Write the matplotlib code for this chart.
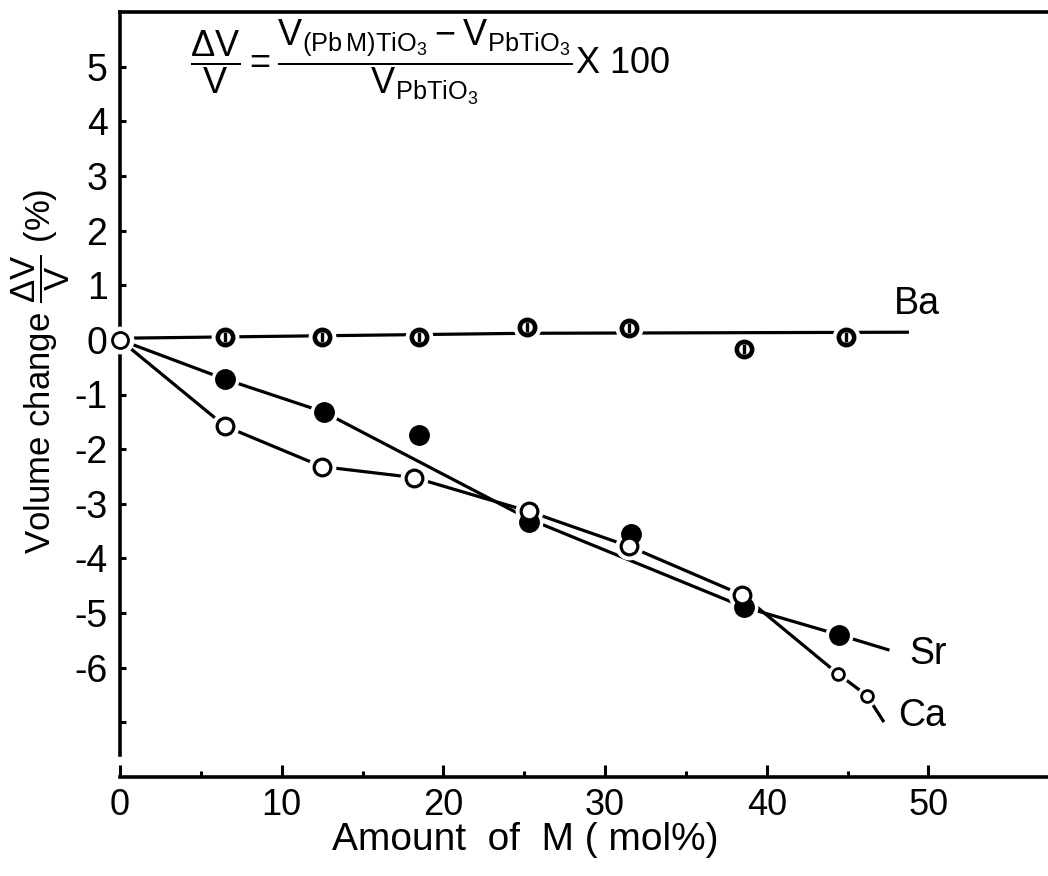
#! /usr/bin/env python3
# coding: utf-8

import matplotlib

matplotlib.use("Agg")
import matplotlib.pyplot as plt

plt.rcParams["font.family"] = ["Liberation Sans", "DejaVu Sans"]
plt.rcParams["mathtext.default"] = "regular"
plt.rcParams["axes.unicode_minus"] = False

# measured points (x = mol% of M, y = volume change in %)
origin_x = [0.0]
origin_y = [0.0]

ba_x = [6.5, 12.5, 18.5, 25.2, 31.5, 38.6, 44.9]
ba_y = [0.05, 0.05, 0.05, 0.23, 0.22, -0.17, 0.05]

sr_x = [6.5, 12.6, 18.5, 25.3, 31.6, 38.6, 44.5]
sr_y = [-0.72, -1.32, -1.74, -3.34, -3.56, -4.89, -5.40]

ca_x = [6.5, 12.5, 18.2, 25.3, 31.5, 38.5]
ca_y = [-1.58, -2.32, -2.52, -3.14, -3.78, -4.67]
ca_small_x = [44.4, 46.2]
ca_small_y = [-6.11, -6.51]

# hand drawn curves, vertices
ba_curve_x = [0.0, 25.0, 48.7]
ba_curve_y = [0.03, 0.12, 0.14]
sr_curve_x = [0.0, 6.5, 12.6, 25.3, 38.6, 44.5, 47.5]
sr_curve_y = [0.0, -0.72, -1.32, -3.28, -4.89, -5.40, -5.67]
ca_curve_x = [0.0, 6.5, 12.5, 18.2, 25.3, 31.5, 38.5, 44.4, 46.2, 47.2]
ca_curve_y = [0.0, -1.58, -2.32, -2.52, -3.14, -3.78, -4.67, -6.11, -6.51, -6.97]

x_ticks = [0, 10, 20, 30, 40, 50]
x_minor = [5, 15, 25, 35, 45]
y_ticks = [-7, -6, -5, -4, -3, -2, -1, 0, 1, 2, 3, 4, 5]
y_labels = ["", "-6", "-5", "-4", "-3", "-2", "-1", "0", "1", "2", "3", "4", "5"]

W, H = 1048, 876
fig = plt.figure(figsize=(W / 100, H / 100), dpi=100)
ax = fig.add_axes([120 / W, 1 - 777 / H, 1 - 120 / W, (777 - 12) / H])
ax.set_xlim(0, 57.4)
ax.set_ylim(-8, 6)

ax.spines["right"].set_visible(False)
for side in ["left", "top", "bottom"]:
    ax.spines[side].set_linewidth(2.6)
ax.spines["left"].set_bounds(-7.6, 6)

ax.set_xticks(x_ticks)
ax.set_xticks(x_minor, minor=True)
ax.set_yticks(y_ticks)
ax.set_yticklabels(y_labels)
ax.tick_params(axis="x", which="major", direction="in", length=9, width=2.2,
               labelsize=26, pad=8, top=False)
ax.tick_params(axis="x", which="minor", direction="in", length=4, width=2.2, top=False)
ax.tick_params(axis="y", which="major", direction="in", length=4, width=2.2,
               labelsize=27, pad=9, right=False)

lw = 2.3
ax.plot(ba_curve_x, ba_curve_y, color="black", lw=lw, zorder=2)
ax.plot(sr_curve_x, sr_curve_y, color="black", lw=lw, zorder=2)
ax.plot(ca_curve_x, ca_curve_y, color="black", lw=lw, zorder=2)

# white halos so the curves stop short of the markers
halo = dict(ls="none", marker="o", color="white", mec="white", zorder=3, clip_on=False)
ax.plot(ba_x, ba_y, ms=19, **halo)
ax.plot(sr_x, sr_y, ms=19, **halo)
ax.plot(ca_x, ca_y, ms=19, **halo)
ax.plot(ca_small_x, ca_small_y, ms=14, **halo)
ax.plot(origin_x, origin_y, ms=19, **halo)

ax.plot(ba_x, ba_y, ls="none", marker="o", ms=11, mfc="white", mec="black",
        mew=3.3, zorder=4)
ax.plot(ba_x, ba_y, ls="none", marker="|", ms=7, mec="black", mew=2.4, zorder=5)
ax.plot(sr_x, sr_y, ls="none", marker="o", ms=14, mfc="black", mec="black",
        mew=1, zorder=4)
ax.plot(ca_x, ca_y, ls="none", marker="o", ms=12, mfc="white", mec="black",
        mew=2.3, zorder=4)
ax.plot(ca_small_x, ca_small_y, ls="none", marker="o", ms=8.5, mfc="white",
        mec="black", mew=2, zorder=4)
ax.plot(origin_x, origin_y, ls="none", marker="o", ms=11.5, mfc="white",
        mec="black", mew=2, zorder=4, clip_on=False)

ax.text(49.3, 0.66, "Ba", fontsize=27, ha="center", va="center")
ax.text(50.0, -5.75, "Sr", fontsize=27, ha="center", va="center")
ax.text(49.6, -6.89, "Ca", fontsize=27, ha="center", va="center")

ax.set_xlabel("Amount  of  M ( mol%)", fontsize=28)
ax.xaxis.set_label_coords((525 - 120) / 928, (777 - 822) / 765)
ax.set_ylabel(r"Volume change $\dfrac{\Delta V}{V}$ (%)", fontsize=25)
ax.yaxis.set_label_coords((72 - 120) / 928, (777 - 371) / 765)

fig.text(190 / W, 1 - 62 / H,
         r"$\dfrac{\Delta V}{V}= \dfrac{V_{(Pb\,M)TiO_3} - V_{PbTiO_3}}{V_{PbTiO_3}}$X 100",
         fontsize=26, ha="left", va="center")

fig.savefig("out.png", dpi=100)
